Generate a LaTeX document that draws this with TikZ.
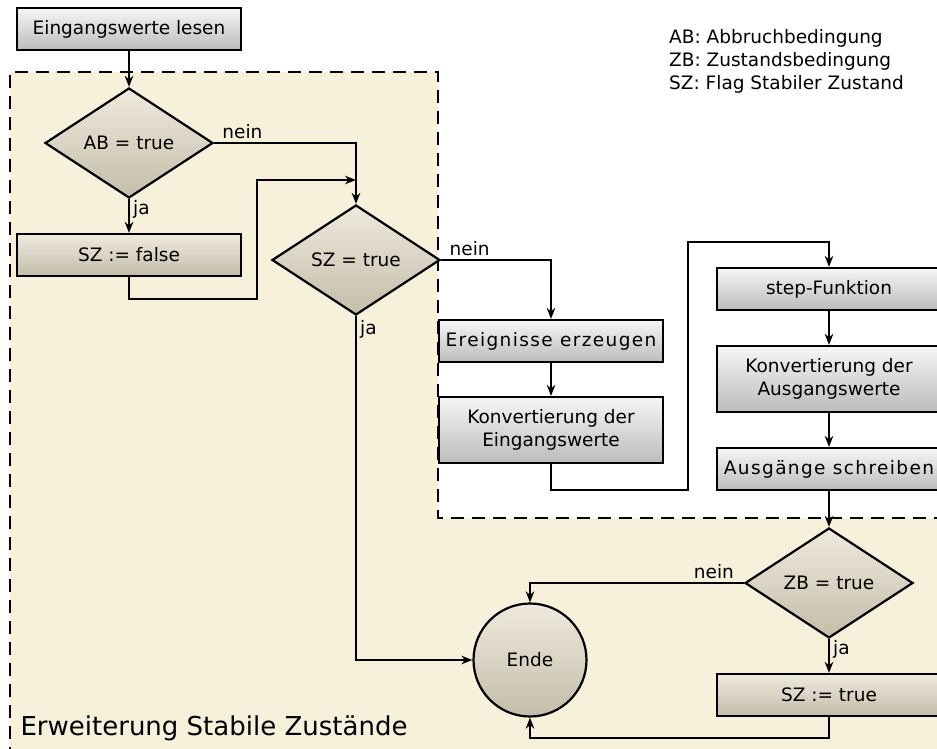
\documentclass[tikz,border=0pt]{standalone}
\usepackage{fontspec}
\setmainfont{DejaVu Sans}
\newfontfamily\widefont[LetterSpace=7.5]{DejaVu Sans}
\usetikzlibrary{shapes.geometric,arrows.meta}

\definecolor{regionbg}{RGB}{247,240,219}
\definecolor{boxtop}{RGB}{246,246,246}
\definecolor{boxbottom}{RGB}{188,188,188}
\definecolor{tantop}{RGB}{238,234,221}
\definecolor{tanbottom}{RGB}{195,189,169}

\begin{document}
\begin{tikzpicture}[x=1pt,y=-1pt,
		>={Stealth[length=11pt,width=8.5pt,inset=3.5pt]},
		every node/.style={font=\fontsize{18.5}{23}\selectfont},
		flow/.style={->,line width=1.7pt},
		greybox/.style={draw,line width=2.2pt,rectangle,top color=boxtop,bottom color=boxbottom,minimum width=224pt,minimum height=42pt,align=center,inner sep=2pt},
		tanbox/.style={greybox,top color=tantop,bottom color=tanbottom},
		decision/.style={draw,line width=2.2pt,diamond,aspect=1.53,top color=tantop,bottom color=tanbottom,minimum width=168pt,minimum height=110pt,inner sep=0pt},
		terminal/.style={draw,line width=2.2pt,circle,top color=tantop,bottom color=tanbottom,minimum size=113pt},
		regionedge/.style={line width=2pt,dash pattern=on 13pt off 8pt}]
	\useasboundingbox (0,0) rectangle (937,749);
	% region of the stable-state extension
	\fill[regionbg] (10,72) -- (438,72) -- (438,518) -- (945,518) -- (945,760) -- (10,760) -- cycle;
	\draw[regionedge] (10,760) -- (10,72) -- (438,72) -- (438,518) -- (945,518);
	\node[anchor=base west,font=\fontsize{26}{30}\selectfont] (regiontitle) at (17,735) {Erweiterung Stabile Zustände};
	% legend
	\node[anchor=north west,align=left,inner sep=0pt] (legend) at (669,29) {AB: Abbruchbedingung\\ZB: Zustandsbedingung\\SZ: Flag Stabiler Zustand};
	% left column
	\node[greybox] (read) at (129,29) {Eingangswerte lesen};
	\node[decision] (ab) at (129,143) {AB = true};
	\node[tanbox] (szfalse) at (129,255) {SZ := false};
	\node[decision] (sz) at (356,260) {SZ = true};
	% simulation step
	\node[greybox] (events) at (551,341) {\widefont Ereignisse erzeugen};
	\node[greybox,minimum height=66pt] (convin) at (551,430) {Konvertierung der\\Eingangswerte};
	\node[greybox] (step) at (829,289) {step-Funktion};
	\node[greybox,minimum height=66pt] (convout) at (829,379) {Konvertierung der\\Ausgangswerte};
	\node[greybox] (write) at (829,469) {\widefont Ausgänge schreiben};
	% end of the cycle
	\node[decision] (zb) at (829,583) {ZB = true};
	\node[tanbox] (sztrue) at (829,695) {SZ := true};
	\node[terminal] (ende) at (530,660) {Ende};
	\coordinate (merge) at (356,180);
	\coordinate (backA) at (257,299);
	\coordinate (jumpA) at (688,490);
	\coordinate (jumpB) at (688,242);
	% connectors
	\draw[flow] (read) -- (ab);
	\draw[flow] (ab.east) -| node[above,pos=0.1]{nein} (sz.north);
	\draw[flow] (ab) -- node[right,pos=0.3]{ja} (szfalse);
	\draw[flow] (szfalse.south) |- (backA) |- (merge);
	\draw[flow] (sz.east) -| node[above,pos=0.13]{nein} (events.north);
	\draw[flow] (sz.south) |- node[right,pos=0.02]{ja} (ende.west);
	\draw[flow] (events) -- (convin);
	\draw[flow] (convin.south) |- (jumpA) -- (jumpB) -| (step.north);
	\draw[flow] (step) -- (convout);
	\draw[flow] (convout) -- (write);
	\draw[flow] (write) -- (zb);
	\draw[flow] (zb.west) -| node[above,pos=0.07]{nein} (ende.north);
	\draw[flow] (zb) -- node[right,pos=0.3]{ja} (sztrue);
	\draw[flow] (sztrue.south) -- ++(0,21) -| (ende.south);
\end{tikzpicture}
\end{document}
